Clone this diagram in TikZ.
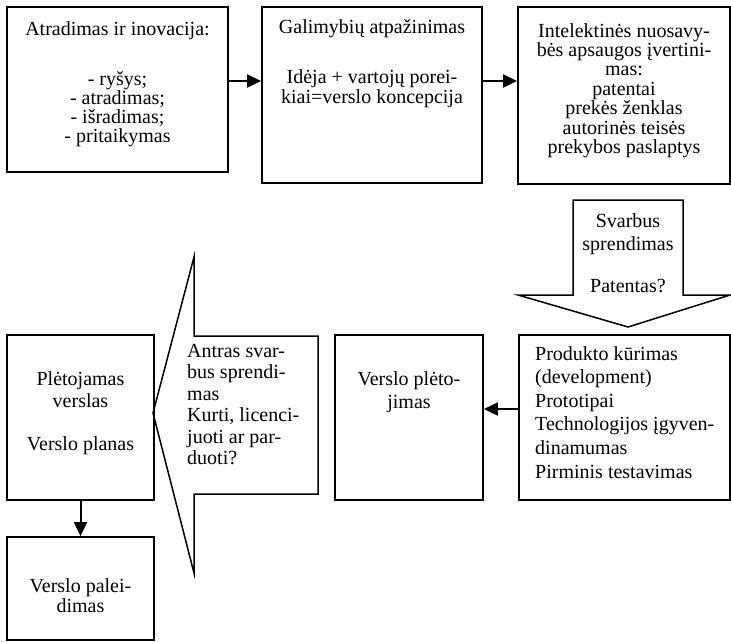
\documentclass[tikz,border=0pt]{standalone}
\usepackage{fontspec}
\setmainfont{Liberation Serif}
\usetikzlibrary{arrows.meta}
\tikzset{
  box/.style={draw, line width=1.8pt, inner sep=0pt},
  conn/.style={line width=2pt, -{Triangle[length=14pt,width=13pt]}},
  blockarrow/.style={draw, line width=1.5pt, line join=miter},
  txt/.style={inner sep=0pt, anchor=north, align=center},
  ltxt/.style={inner sep=0pt, anchor=north west, align=left},
}
\newcommand{\fs}[1]{\fontsize{20}{#1}\selectfont}
\begin{document}
\begin{tikzpicture}[x=1pt,y=-1pt]
\useasboundingbox (0,0) rectangle (731,641);
% boxes
\node[box, minimum width=221pt, minimum height=165pt] (b1) at (117.5,89.5) {};
\node[box, minimum width=220pt, minimum height=176pt] (b2) at (372,95) {};
\node[box, minimum width=212pt, minimum height=177pt] (b3) at (624,95.5) {};
\node[box, minimum width=211pt, minimum height=165pt] (b4) at (624.5,417.5) {};
\node[box, minimum width=148pt, minimum height=165pt] (b5) at (409,417.5) {};
\node[box, minimum width=147pt, minimum height=165pt] (b6) at (80.5,417.5) {};
\node[box, minimum width=147pt, minimum height=103pt] (b7) at (80.5,588.5) {};
% block arrows
\draw[blockarrow] (573,200) -- (683,200) -- (683,295) -- (730,295) -- (628,327) -- (518,295) -- (573,295) -- cycle;
\draw[blockarrow] (194,257) -- (194,336) -- (318,336) -- (318,494) -- (194,494) -- (194,573) -- (153,413) -- cycle;
% texts
\node[txt, font=\fs{19}] (t1) at (117.5,21) {Atradimas ir inovacija:\\[31pt]- ryšys;\\- atradimas;\\- išradimas;\\- pritaikymas};
\node[txt, font=\fs{20}] (t2) at (372,19) {Galimybių atpažinimas\\[30pt]Idėja + vartojų porei-\\kiai=verslo koncepcija};
\node[txt, font=\fs{19.4}] (t3) at (624,23) {Intelektinės nuosavy-\\bės apsaugos įvertini-\\mas:\\patentai\\prekės ženklas\\autorinės teisės\\prekybos paslaptys};
\node[txt, font=\fs{23}] (t4) at (628,213) {Svarbus\\sprendimas\\[19pt]Patentas?};
\node[ltxt, font=\fs{23.6}] (t5) at (535,346) {Produkto kūrimas\\(development)\\Prototipai\\Technologijos įgyven-\\dinamumas\\Pirminis testavimas};
\node[txt, font=\fs{23}] (t6) at (409,371) {Verslo plėto-\\jimas};
\node[ltxt, font=\fs{21.4}] (t7) at (187,344) {Antras svar-\\bus sprendi-\\mas\\Kurti, licenci-\\juoti ar par-\\duoti?};
\node[txt, font=\fs{22}] (t8) at (80.5,371) {Plėtojamas\\verslas\\[21pt]Verslo planas};
\node[txt, font=\fs{20}] (t9) at (80.5,578) {Verslo palei-\\dimas};
% connectors
\coordinate (ya) at (0,81);
\coordinate (yb) at (0,409);
\draw[conn] (b1.east |- ya) -- (b2.west |- ya);
\draw[conn] (b2.east |- ya) -- (b3.west |- ya);
\draw[conn] (b4.west |- yb) -- (b5.east |- yb);
\draw[conn] (b6.south) -- (b7.north);
\end{tikzpicture}
\end{document}
